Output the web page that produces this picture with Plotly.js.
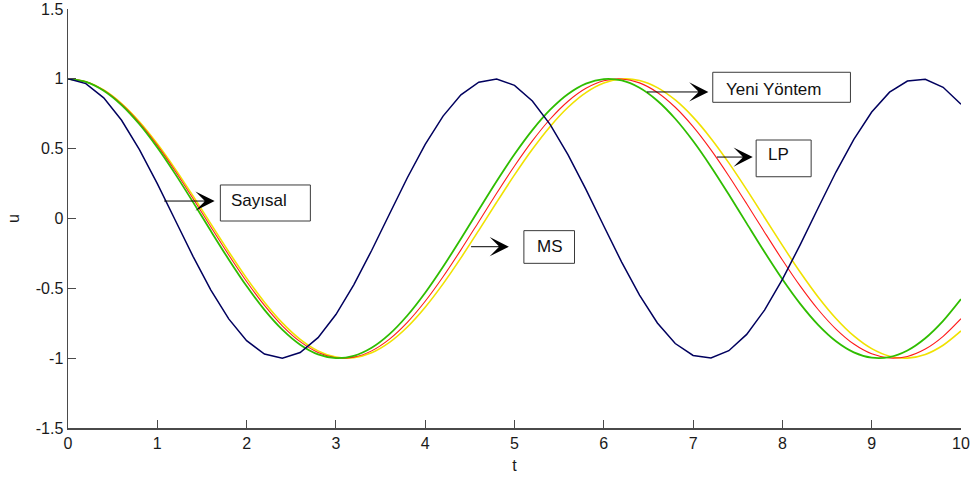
<!DOCTYPE html>
<html>
<head>
<meta charset="utf-8">
<script src="https://cdn.plot.ly/plotly-3.0.1.min.js"></script>
<style>
  html, body { margin: 0; padding: 0; background: #ffffff; }
  #chart { width: 976px; height: 482px; }
</style>
</head>
<body>
<div id="chart"></div>
<script>
// time samples
const t = [0,0.2,0.4,0.6,0.8,1,1.2,1.4,1.6,1.8,2,2.2,2.4,2.6,2.8,3,3.2,3.4,3.6,3.8,4,
           4.2,4.4,4.6,4.8,5,5.2,5.4,5.6,5.8,6,6.2,6.4,6.6,6.8,7,7.2,7.4,7.6,7.8,8,
           8.2,8.4,8.6,8.8,9,9.2,9.4,9.6,9.8,10];

// Sayısal
const uSayisal = [1.0000,0.9655,0.8642,0.7033,0.4938,0.2501,-0.0108,-0.2710,-0.5124,-0.7186,-0.8750,
                  -0.9709,-0.9998,-0.9596,-0.8532,-0.6877,-0.4749,-0.2291,0.0324,0.2917,0.5309,
                  0.7333,0.8851,0.9758,0.9991,0.9533,0.8417,0.6719,0.4557,0.2081,-0.0540,
                  -0.3123,-0.5490,-0.7478,-0.8950,-0.9803,-0.9979,-0.9466,-0.8298,-0.6558,-0.4364,
                  -0.1869,0.0755,0.3327,0.5670,0.7620,0.9044,0.9843,0.9963,0.9394,0.8176];

// Yeni Yöntem
const uYeni = [1.0000,0.9785,0.9150,0.8123,0.6746,0.5080,0.3195,0.1173,-0.0899,-0.2932,-0.4840,
               -0.6540,-0.7958,-0.9036,-0.9725,-0.9996,-0.9838,-0.9258,-0.8280,-0.6947,-0.5315,
               -0.3455,-0.1447,0.0624,0.2667,0.4597,0.6328,0.7788,0.8914,0.9657,0.9985,
               0.9884,0.9359,0.8432,0.7143,0.5547,0.3713,0.1719,-0.0348,-0.2400,-0.4350,
               -0.6112,-0.7612,-0.8785,-0.9581,-0.9966,-0.9922,-0.9453,-0.8577,-0.7333,-0.5775];

// LP
const uLP = [1.0000,0.9793,0.9180,0.8187,0.6854,0.5238,0.3405,0.1430,-0.0604,-0.2612,-0.4513,
             -0.6226,-0.7682,-0.8819,-0.9591,-0.9965,-0.9927,-0.9478,-0.8635,-0.7435,-0.5927,
             -0.4173,-0.2247,-0.0227,0.1802,0.3756,0.5555,0.7124,0.8397,0.9323,0.9862,
             0.9993,0.9710,0.9024,0.7965,0.6575,0.4913,0.3048,0.1056,-0.0979,-0.2974,
             -0.4846,-0.6517,-0.7917,-0.8991,-0.9691,-0.9990,-0.9875,-0.9351,-0.8439,-0.7178];

// MS
const uMS = [1.0000,0.9798,0.9201,0.8233,0.6932,0.5352,0.3556,0.1617,-0.0388,-0.2377,-0.4270,
             -0.5991,-0.7470,-0.8648,-0.9477,-0.9924,-0.9970,-0.9614,-0.8870,-0.7768,-0.6353,
             -0.4682,-0.2821,-0.0847,0.1161,0.3123,0.4958,0.6594,0.7963,0.9011,0.9696,
             0.9989,0.9880,0.9372,0.8485,0.7257,0.5735,0.3982,0.2069,0.0072,-0.1928,
             -0.3850,-0.5617,-0.7157,-0.8408,-0.9320,-0.9857,-0.9995,-0.9730,-0.9073,-0.8050];

const xTickVals = [0,1,2,3,4,5,6,7,8,9,10];
const xTickText = ['0','1','2','3','4','5','6','7','8','9','10'];
const yTickVals = [-1.5,-1,-0.5,0,0.5,1,1.5];
const yTickText = ['-1.5','-1','-0.5','0','0.5','1','1.5'];

const FONT = 'Liberation Sans, Arial, Helvetica, sans-serif';

function line(y, color, width, name, shape) {
  return { x: t, y: y, type: 'scatter', mode: 'lines', name: name,
           line: { color: color, width: width, shape: shape, smoothing: 0.8 },
           hoverinfo: 'skip' };
}

const traces = [
  line(uMS, '#f0e200', 1.6, 'MS', 'spline'),
  line(uLP, '#ff1a1a', 1.1, 'LP', 'spline'),
  line(uYeni, '#2fbd00', 1.8, 'Yeni Yöntem', 'spline'),
  line(uSayisal, '#00005e', 1.5, 'Sayısal', 'linear')
];

// labelled boxes with pointer arrows (data coordinates)
const boxes = [
  { label: 'Sayısal',     x0: 1.706, x1: 2.714, y0: -0.018, y1: 0.240, tx: 1.802, ty: 0.129,
    tail: [1.060, 0.125], tip: [1.642, 0.125] },
  { label: 'Yeni Yöntem', x0: 7.220, x1: 8.762, y0: 0.832, y1: 1.047, tx: 7.344, ty: 0.927,
    tail: [6.467, 0.906], tip: [7.171, 0.906] },
  { label: 'LP',          x0: 7.706, x1: 8.322, y0: 0.299, y1: 0.562, tx: 7.818, ty: 0.455,
    tail: [7.251, 0.440], tip: [7.668, 0.440] },
  { label: 'MS',          x0: 5.105, x1: 5.672, y0: -0.321, y1: -0.087, tx: 5.224, ty: -0.202,
    tail: [4.497, -0.202], tip: [4.937, -0.202] }
];

const shapes = boxes.map(b => ({
  type: 'rect', xref: 'x', yref: 'y', x0: b.x0, x1: b.x1, y0: b.y0, y1: b.y1,
  line: { color: '#3a3a3a', width: 1 }, fillcolor: 'rgba(255,255,255,0)'
}));

const annotations = [];
boxes.forEach(b => {
  annotations.push({
    xref: 'x', yref: 'y', x: b.tx, y: b.ty, text: b.label, showarrow: false,
    xanchor: 'left', yanchor: 'middle',
    font: { family: FONT, size: 17, color: '#111111' }
  });
  annotations.push({
    xref: 'x', yref: 'y', x: b.tip[0], y: b.tip[1],
    axref: 'x', ayref: 'y', ax: b.tail[0], ay: b.tail[1],
    text: '', showarrow: true, arrowhead: 3, arrowsize: 3.2, arrowwidth: 1,
    arrowcolor: '#000000', standoff: 0, startstandoff: 0
  });
});

const axisCommon = {
  showline: true, linecolor: '#4a4a4a', linewidth: 1.5,
  showgrid: false, zeroline: false, mirror: false,
  ticks: 'inside', ticklen: 8, tickwidth: 1, tickcolor: '#4a4a4a',
  tickfont: { family: FONT, size: 16, color: '#1a1a1a' },
  tickmode: 'array', fixedrange: true
};

const layout = {
  width: 976, height: 482,
  margin: { l: 68, r: 15, t: 9, b: 54, pad: 0 },
  paper_bgcolor: '#ffffff', plot_bgcolor: '#ffffff',
  showlegend: false,
  xaxis: Object.assign({}, axisCommon, {
    range: [0, 10], tickvals: xTickVals, ticktext: xTickText,
    title: { text: 't', font: { family: FONT, size: 16, color: '#1a1a1a' }, standoff: 9 }
  }),
  yaxis: Object.assign({}, axisCommon, {
    range: [-1.5, 1.5], tickvals: yTickVals, ticktext: yTickText,
    title: { text: 'u', font: { family: FONT, size: 16, color: '#1a1a1a' }, standoff: 12 }
  }),
  shapes: shapes,
  annotations: annotations
};

Plotly.newPlot('chart', traces, layout, { staticPlot: true, displayModeBar: false });
</script>
</body>
</html>
